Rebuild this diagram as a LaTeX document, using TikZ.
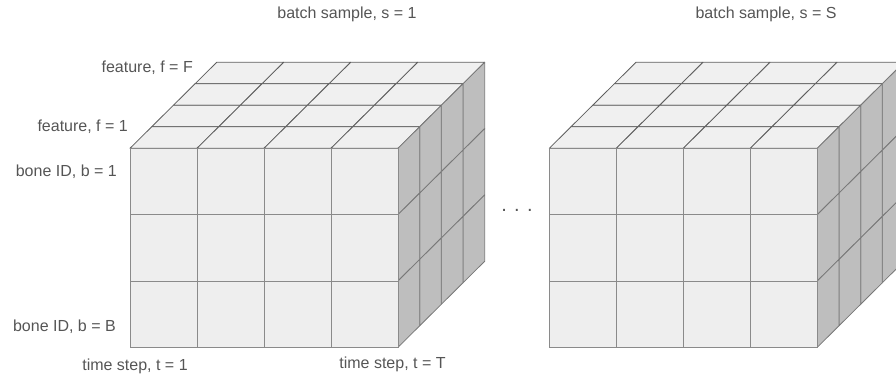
\documentclass[tikz,border=0pt]{standalone}
\usepackage{fontspec}
\setmainfont{Liberation Sans}
\definecolor{frontc}{HTML}{EEEEEE}
\definecolor{topc}{HTML}{F0F0F0}
\definecolor{sidec}{HTML}{BEBEBE}
\definecolor{linec}{HTML}{5E5E5E}
\definecolor{flinec}{HTML}{8A8A8A}
\definecolor{slinec}{HTML}{787878}
\definecolor{txtc}{HTML}{555555}
\tikzset{
  lab/.style={text=txtc, inner sep=0pt, font=\fontsize{16}{19}\selectfont},
  dotslab/.style={text=txtc, inner sep=0pt, font=\fontsize{20}{22}\selectfont},
  topcell/.style={fill=topc, draw=linec, line width=0.8pt, line join=round},
  sidecell/.style={fill=sidec, draw=slinec, line width=0.8pt, line join=round},
  frontcell/.style={fill=frontc, draw=flinec, line width=0.8pt},
  cube/.pic={
    \def\cw{67}\def\rh{66.33}\def\dx{21.67}\def\dy{21.5}
    \foreach \k in {3,2,1,0}{
      \foreach \i in {0,1,2,3}{
        \path[topcell] (\i*\cw+\k*\dx, -\k*\dy) -- ++(\cw,0) -- ++(\dx,-\dy) -- ++(-\cw,0) -- cycle;
      }
    }
    \foreach \k in {3,2,1,0}{
      \foreach \j in {0,1,2}{
        \path[sidecell] (4*\cw+\k*\dx, \j*\rh-\k*\dy) -- ++(\dx,-\dy) -- ++(0,\rh) -- ++(-\dx,\dy) -- cycle;
      }
    }
    \foreach \i in {0,1,2,3}{
      \foreach \j in {0,1,2}{
        \path[frontcell] (\i*\cw, \j*\rh) rectangle ++(\cw,\rh);
      }
    }
  }
}
\begin{document}
\begin{tikzpicture}[x=1pt,y=-1pt]
\useasboundingbox (0,0) rectangle (896,377);
\clip (0,0) rectangle (896,377);
\pic (cubeA) at (130,148.3) {cube};
\pic (cubeB) at (549.3,148.3) {cube};
\node[lab] (s1) at (347,14) {batch sample, s = 1};
\node[lab] (sS) at (766,14) {batch sample, s = S};
\node[lab, anchor=east] (fF) at (193,67.7) {feature, f = F};
\node[lab, anchor=east] (f1) at (128,126.7) {feature, f = 1};
\node[lab, anchor=east] (b1) at (117,172) {bone ID, b = 1};
\node[lab, anchor=east] (bB) at (116,326.7) {bone ID, b = B};
\node[lab] (t1) at (135,366) {time step, t = 1};
\node[lab] (tT) at (392.5,364) {time step, t = T};
\node[dotslab, anchor=base] (dots) at (517,211) {. . .};
\end{tikzpicture}
\end{document}
